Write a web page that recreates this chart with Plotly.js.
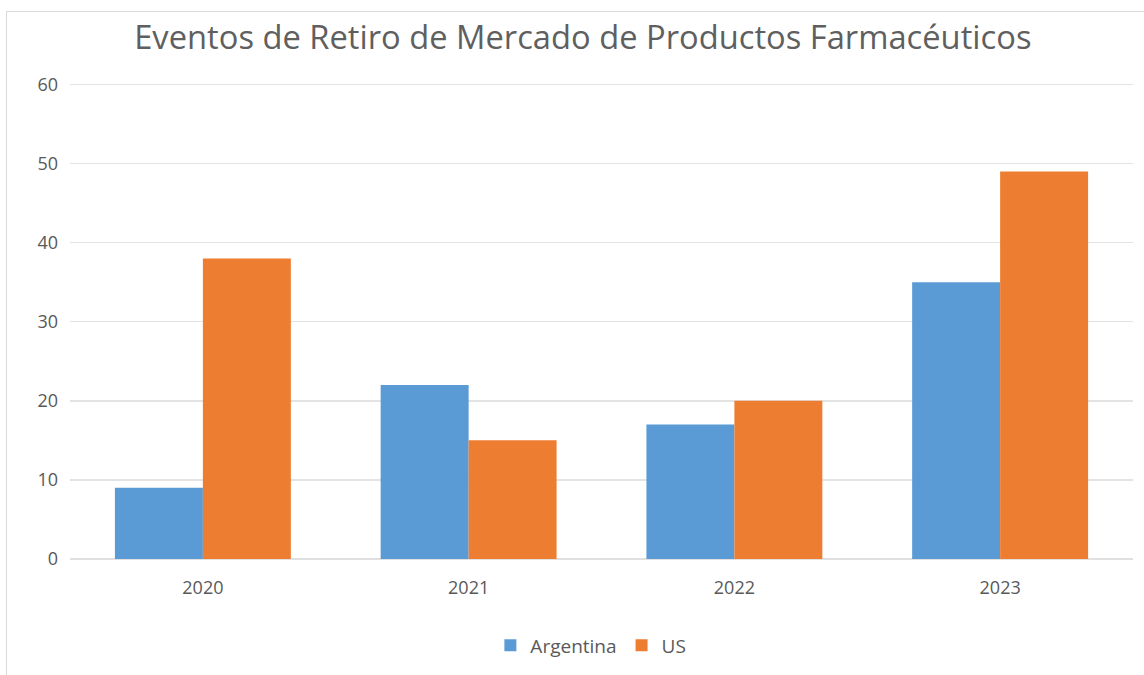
<!DOCTYPE html>
<html>
<head>
<meta charset="utf-8">
<script src="https://cdn.plot.ly/plotly-3.0.1.min.js"></script>
<style>
  html, body { margin: 0; padding: 0; background: #fff; }
  #chart { position: absolute; left: 6px; top: 11px; width: 1138px; height: 664px;
           border-left: 1px solid #d9d9d9; border-top: 1px solid #d9d9d9; box-sizing: border-box; }
</style>
</head>
<body>
<div id="chart"></div>
<script>
const categories = ['2020', '2021', '2022', '2023'];
const argentina = [9, 22, 17, 35];
const us = [38, 15, 20, 49];
const yTicks = [0, 10, 20, 30, 40, 50, 60];

const font = 'Open Sans, Liberation Sans, sans-serif';

const traces = [
  { type: 'bar', name: 'Argentina', x: categories, y: argentina, marker: { color: '#5B9BD5' }, hoverinfo: 'y' },
  { type: 'bar', name: 'US', x: categories, y: us, marker: { color: '#ED7D31' }, hoverinfo: 'y' }
];

const layout = {
  width: 1138, height: 664,
  margin: { l: 63, r: 12, t: 70, b: 117 },
  paper_bgcolor: '#ffffff', plot_bgcolor: '#ffffff',
  barmode: 'group', bargap: 0.338, bargroupgap: 0,
  font: { family: font, color: '#595959', size: 18 },
  title: { text: 'Eventos de Retiro de Mercado de Productos Farmacéuticos',
           font: { family: font, size: 32.7, color: '#5f5f5f' },
           x: 0.506, xanchor: 'center', yref: 'container', y: 0.961, yanchor: 'middle' },
  xaxis: { type: 'category', showgrid: false, showline: false, zeroline: false,
           ticks: '', ticklabelstandoff: 16, tickfont: { size: 18, color: '#595959' } },
  yaxis: { range: [0, 60.3], tickvals: yTicks, ticktext: yTicks.map(String), showgrid: true,
           gridcolor: '#e3e3e3', gridwidth: 1.5, zeroline: true, zerolinecolor: '#e0e0e0', zerolinewidth: 1.5,
           showline: false, ticks: '', ticklabelstandoff: 11, tickfont: { size: 18, color: '#595959' } },
  showlegend: true,
  legend: { orientation: 'h', x: 0.49, xanchor: 'center', y: -0.181, yanchor: 'middle',
            font: { size: 19, color: '#595959' }, itemwidth: 30, traceorder: 'normal' }
};

Plotly.newPlot('chart', traces, layout, { displayModeBar: false, staticPlot: true });
</script>
</body>
</html>
